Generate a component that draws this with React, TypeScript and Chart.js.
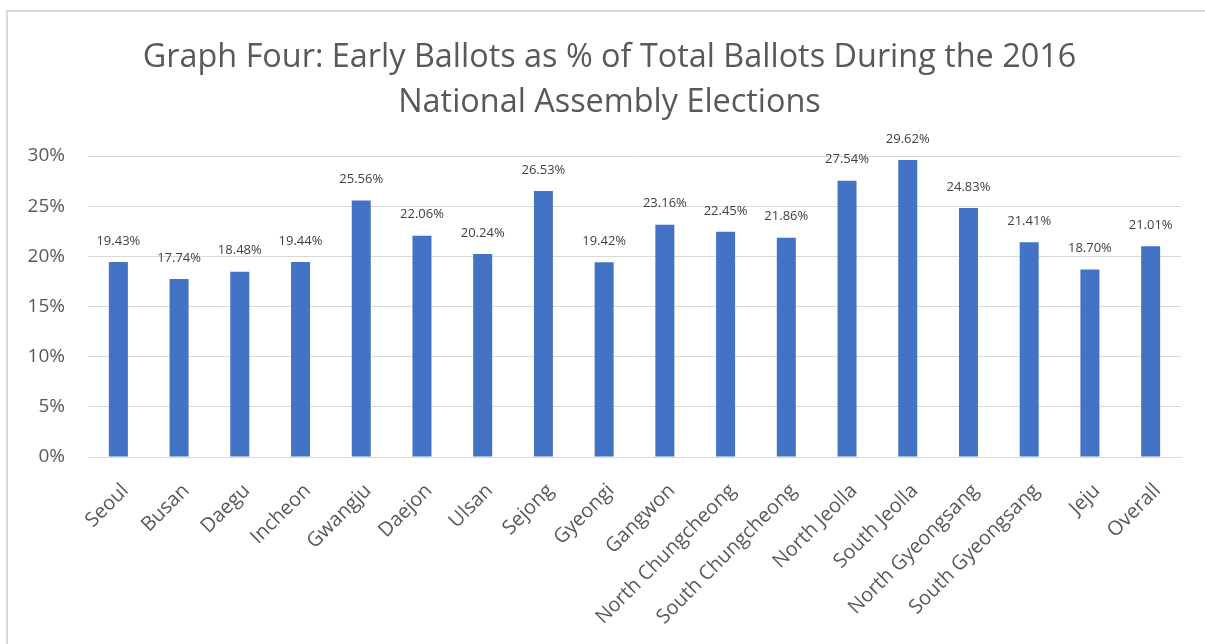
import React, { useEffect, useRef } from "react";
import { Chart, registerables } from "chart.js";

Chart.register(...registerables);

const categories: string[] = [
  "Seoul", "Busan", "Daegu", "Incheon", "Gwangju", "Daejon", "Ulsan", "Sejong", "Gyeongi",
  "Gangwon", "North Chungcheong", "South Chungcheong", "North Jeolla", "South Jeolla",
  "North Gyeongsang", "South Gyeongsang", "Jeju", "Overall",
];

const earlyBallotPct: number[] = [
  19.43, 17.74, 18.48, 19.44, 25.56, 22.06, 20.24, 26.53, 19.42,
  23.16, 22.45, 21.86, 27.54, 29.62, 24.83, 21.41, 18.70, 21.01,
];

const yTicks: number[] = [0, 5, 10, 15, 20, 25, 30];

const titleLines: string[] = [
  "Graph Four: Early Ballots as % of Total Ballots During the 2016",
  "National Assembly Elections",
];

const FONT = "'Open Sans', 'DejaVu Sans', sans-serif";

const dataLabelPlugin = {
  id: "dataLabels",
  afterDatasetsDraw(chart: any) {
    const ctx = chart.ctx;
    const meta = chart.getDatasetMeta(0);
    ctx.save();
    ctx.font = `13px ${FONT}`;
    ctx.fillStyle = "#404040";
    ctx.textAlign = "center";
    ctx.textBaseline = "middle";
    meta.data.forEach((bar: any, i: number) => {
      const v = chart.data.datasets[0].data[i] as number;
      ctx.fillText(v.toFixed(2) + "%", bar.x, bar.y - 21);
    });
    ctx.restore();
  },
};

export default function App() {
  const ref = useRef<HTMLCanvasElement | null>(null);

  useEffect(() => {
    if (!ref.current) return;
    const chart = new Chart(ref.current, {
      type: "bar",
      data: {
        labels: categories,
        datasets: [
          {
            data: earlyBallotPct,
            backgroundColor: "#4472C4",
            borderWidth: 0,
            barPercentage: 0.313,
            categoryPercentage: 1,
          },
        ],
      },
      options: {
        animation: false,
        responsive: false,
        maintainAspectRatio: false,
        layout: { padding: { top: 0, left: 14, right: 0, bottom: 0 } },
        plugins: {
          legend: { display: false },
          tooltip: { enabled: false },
          title: {
            display: true,
            text: titleLines,
            color: "#595959",
            font: { family: FONT, size: 32.4, weight: "normal", lineHeight: 1.39 },
            padding: { top: 35, bottom: 31 },
          },
        },
        scales: {
          x: {
            grid: { display: false, drawTicks: false },
            border: { display: true, color: "#d9d9d9", width: 1 },
            ticks: {
              color: "#595959",
              font: { family: FONT, size: 20 },
              maxRotation: 45,
              minRotation: 45,
              autoSkip: false,
              padding: 22,
              labelOffset: 7,
            },
            afterFit: (scale: any) => {
              scale.height = 187;
            },
          },
          y: {
            min: 0,
            max: 30,
            afterBuildTicks: (scale: any) => {
              scale.ticks = yTicks.map((v) => ({ value: v }));
            },
            grid: { color: "#d9d9d9", lineWidth: 1, drawTicks: false },
            border: { display: false },
            ticks: {
              color: "#595959",
              font: { family: FONT, size: 19 },
              padding: 23,
              callback: (v: any) => `${v}%`,
            },
            afterFit: (scale: any) => {
              scale.width = 74;
            },
          },
          yRight: {
            position: "right",
            display: true,
            grid: { display: false, drawTicks: false },
            border: { display: false },
            ticks: { display: false },
            afterFit: (scale: any) => {
              scale.width = 24;
            },
          },
        },
      },
      plugins: [dataLabelPlugin],
    });
    return () => chart.destroy();
  }, []);

  return (
    <div style={{ position: "absolute", left: 0, top: 0, width: 1205, height: 644, background: "#fff", overflow: "hidden" }}>
      <div
        style={{
          position: "absolute",
          left: 6,
          top: 10,
          width: 1199,
          height: 634,
          borderTop: "2px solid #d9d9d9",
          borderLeft: "2px solid #d9d9d9",
          boxSizing: "border-box",
        }}
      />
      <canvas ref={ref} width={1205} height={644} style={{ position: "absolute", left: 0, top: 0 }} />
    </div>
  );
}
